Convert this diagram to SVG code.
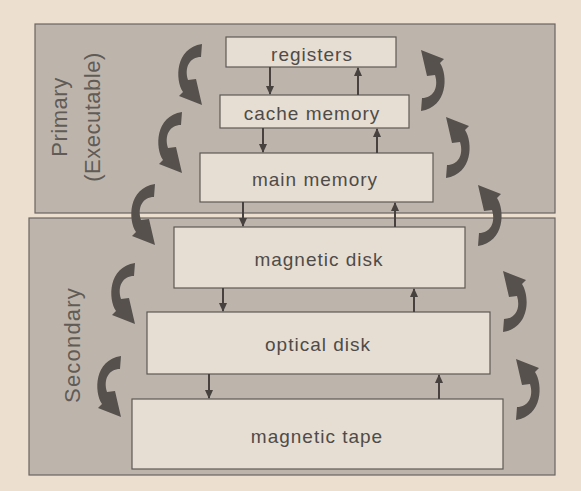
<svg xmlns="http://www.w3.org/2000/svg" xmlns:xlink="http://www.w3.org/1999/xlink" width="581" height="491" viewBox="0 0 581 491">
  <style>
    .panel { fill: #bdb5ac; stroke: #6a6560; stroke-width: 1.2; }
    .box { fill: #e6ded3; stroke: #5e5955; stroke-width: 1.2; }
    .lbl { font-family: "Liberation Sans", Arial, sans-serif; font-size: 19px; fill: #4f4b48; text-anchor: middle; letter-spacing: 1px; }
    .side { font-family: "Liberation Sans", Arial, sans-serif; font-size: 22px; fill: #615b56; text-anchor: middle; letter-spacing: 0.5px; }
    .small { stroke: #47423f; stroke-width: 2; fill: none; marker-end: url(#head); }
    .curve { fill: #56514d; }
  </style>
  <defs>
    <marker id="head" markerUnits="userSpaceOnUse" markerWidth="9" markerHeight="8" refX="8" refY="4" orient="auto">
      <path d="M0,0 L9,4 L0,8 Z" fill="#47423f"/>
    </marker>
    <path id="bend" d="M 0,0 L -1,13 C -12,13 -18,23 -14,36 L -6,35 L 0,61 L -23,52 L -19,48 C -27,36 -27,4 0,0 Z"/>
  </defs>

  <rect width="581" height="491" fill="#ecdfcf"/>

  <g id="primary">
    <rect class="panel" x="35" y="24" width="520" height="189"/>
    <text class="side" transform="translate(67,117) rotate(-90)">Primary</text>
    <text class="side" transform="translate(100,117) rotate(-90)">(Executable)</text>
  </g>
  <g id="secondary">
    <rect class="panel" x="29" y="218" width="526" height="257"/>
    <text class="side" transform="translate(80,345) rotate(-90)" style="letter-spacing:1.2px">Secondary</text>
  </g>

  <g id="registers">
    <rect class="box" x="226" y="37" width="170" height="30"/>
    <text class="lbl" x="312" y="61">registers</text>
  </g>
  <g id="cache-memory">
    <rect class="box" x="220" y="95" width="189" height="33"/>
    <text class="lbl" x="312" y="120">cache memory</text>
  </g>
  <g id="main-memory">
    <rect class="box" x="200" y="153" width="233" height="49"/>
    <text class="lbl" x="315" y="186">main memory</text>
  </g>
  <g id="magnetic-disk">
    <rect class="box" x="174" y="227" width="291" height="61"/>
    <text class="lbl" x="319" y="266">magnetic disk</text>
  </g>
  <g id="optical-disk">
    <rect class="box" x="147" y="312" width="343" height="62"/>
    <text class="lbl" x="318" y="351">optical disk</text>
  </g>
  <g id="magnetic-tape">
    <rect class="box" x="132" y="399" width="371" height="70"/>
    <text class="lbl" x="317" y="443">magnetic tape</text>
  </g>

  <g id="connectors">
    <line class="small" x1="270" y1="67" x2="270" y2="94"/>
    <line class="small" x1="263" y1="128" x2="263" y2="152"/>
    <line class="small" x1="243" y1="202" x2="243" y2="226"/>
    <line class="small" x1="223" y1="288" x2="223" y2="311"/>
    <line class="small" x1="209" y1="374" x2="209" y2="398"/>

    <line class="small" x1="358" y1="95" x2="358" y2="68"/>
    <line class="small" x1="377" y1="153" x2="377" y2="129"/>
    <line class="small" x1="395" y1="227" x2="395" y2="203"/>
    <line class="small" x1="414" y1="312" x2="414" y2="289"/>
    <line class="small" x1="439" y1="399" x2="439" y2="375"/>

    <use class="curve" xlink:href="#bend" transform="translate(202,44)"/>
    <use class="curve" xlink:href="#bend" transform="translate(182,112)"/>
    <use class="curve" xlink:href="#bend" transform="translate(155,184)"/>
    <use class="curve" xlink:href="#bend" transform="translate(135,263)"/>
    <use class="curve" xlink:href="#bend" transform="translate(121,356)"/>

    <use class="curve" xlink:href="#bend" transform="translate(421,111) rotate(180)"/>
    <use class="curve" xlink:href="#bend" transform="translate(446,178) rotate(180)"/>
    <use class="curve" xlink:href="#bend" transform="translate(478,246) rotate(180)"/>
    <use class="curve" xlink:href="#bend" transform="translate(503,332) rotate(180)"/>
    <use class="curve" xlink:href="#bend" transform="translate(516,420) rotate(180)"/>
  </g>
</svg>
